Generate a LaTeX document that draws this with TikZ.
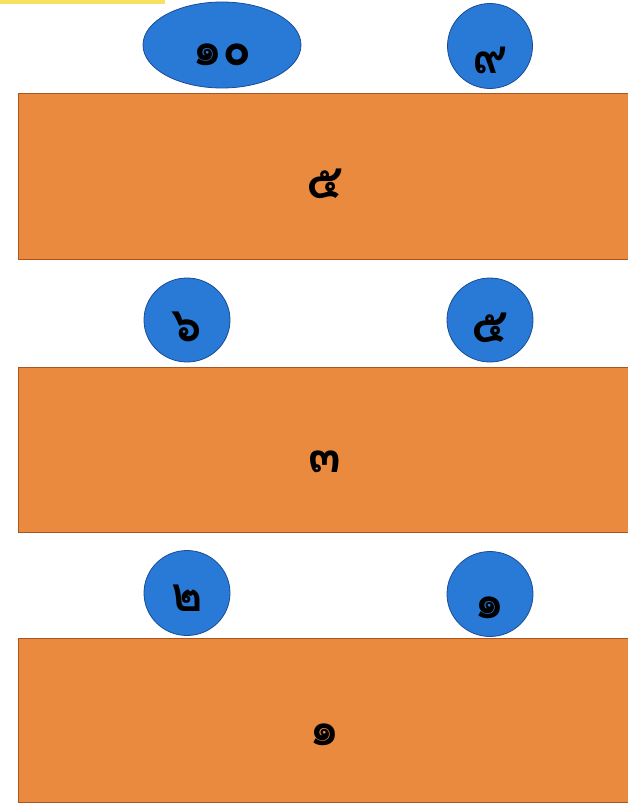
\documentclass[tikz,border=0pt]{standalone}
\usepackage{fontspec}
\newfontfamily\thaifont[Script=Thai]{Loma}
\definecolor{barorange}{RGB}{234,138,62}
\definecolor{baredge}{RGB}{170,85,30}
\definecolor{discblue}{RGB}{40,122,214}
\definecolor{discedge}{RGB}{25,75,150}
\definecolor{tabyellow}{RGB}{246,226,96}
\usetikzlibrary{shapes.geometric}
% digit set a little below the middle of its shape
\newcommand\lownum[2]{\raisebox{-#1}[\height][0pt]{#2}}

\begin{document}
\begin{tikzpicture}[x=1pt, y=-1pt,
    barbox/.style={rectangle, fill=barorange, draw=baredge, line width=0.8pt,
        minimum width=614pt, minimum height=#1, inner sep=0pt,
        font=\thaifont\bfseries\fontsize{48}{52}\selectfont},
    disc/.style={ellipse, fill=discblue, draw=discedge, line width=0.8pt,
        inner sep=0pt, font=\thaifont\bfseries\fontsize{48}{52}\selectfont}]
    \useasboundingbox (0,0) rectangle (628,808);
    \clip (0,0) rectangle (628,808);
    \fill[tabyellow] (0,0) rectangle (165,4);
    % bars
    \node[barbox=166pt] (bartop) at (325,176) {\lownum{8pt}{๕}};
    \node[barbox=165pt] (barmid) at (325,449.5) {\lownum{12pt}{๓}};
    \node[barbox=164pt] (barlow) at (325,720) {\lownum{15pt}{๑}};
    % discs above the bars
    \node[disc, minimum width=158pt, minimum height=86pt] (tenball) at (222,45) {\lownum{10pt}{๑๐}};
    \node[disc, minimum width=85pt, minimum height=85pt] (nineball) at (490,46) {\lownum{14pt}{๙}};
    \node[disc, minimum width=86pt, minimum height=84pt] (sixball) at (187,320) {\lownum{7pt}{๖}};
    \node[disc, minimum width=86pt, minimum height=84pt] (fiveball) at (490,320) {\lownum{8pt}{๕}};
    \node[disc, minimum width=86pt, minimum height=85pt] (twoball) at (187,593) {\lownum{5pt}{๒}};
    \node[disc, minimum width=86pt, minimum height=85pt] (oneball) at (490,594) {\lownum{14pt}{๑}};
\end{tikzpicture}
\end{document}
